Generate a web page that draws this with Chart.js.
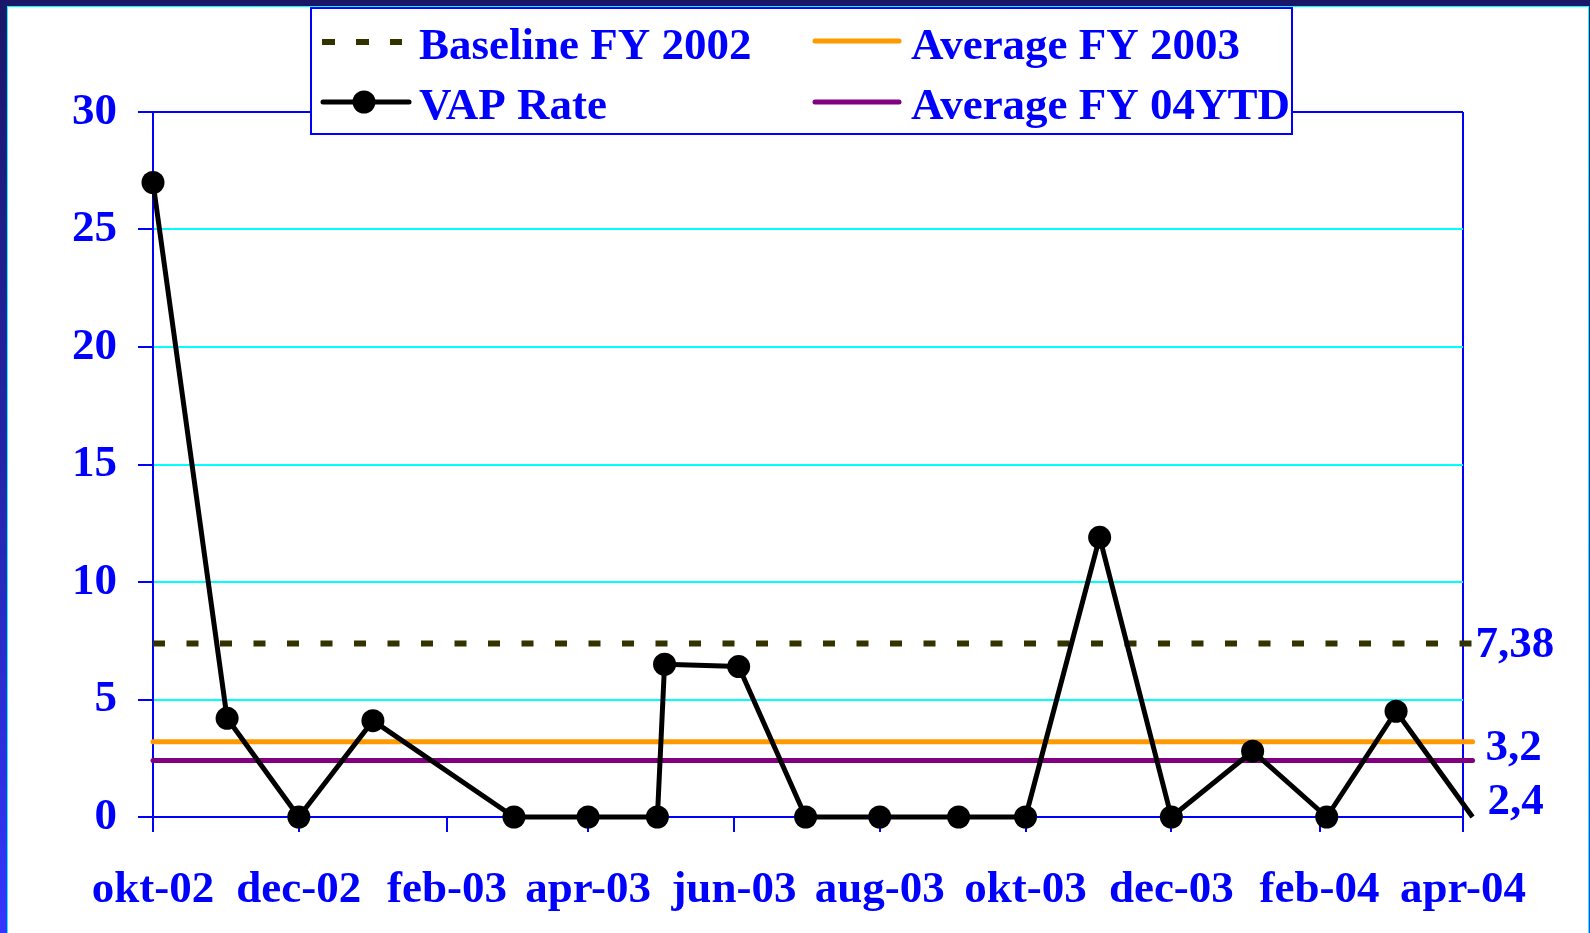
<!DOCTYPE html>
<html>
  <head>
    <meta charset="utf-8" />
    <script src="https://cdn.jsdelivr.net/npm/chart.js"></script>
    <title>VAP Rate</title>
    <style>
      html, body { margin: 0; padding: 0; }
      body {
        width: 1590px;
        height: 933px;
        overflow: hidden;
        position: relative;
        background: linear-gradient(to bottom, #1a1668 0%, #2626b0 55%, #3535ff 100%);
      }
      #frame {
        position: absolute;
        left: 7px;
        top: 6px;
        width: 1580px;
        height: 927px;
        border: 1px solid #00ffff;
        border-bottom: none;
        background: #fff;
      }
      #frame canvas { display: block; }
    </style>
  </head>
  <body>
    <div id="frame">
      <canvas id="vap" width="1580" height="927"></canvas>
    </div>

    <script>
      // data
      var vapDates = [
        "2002-10-01", "2002-11-01", "2002-12-01", "2003-01-01", "2003-03-01",
        "2003-04-01", "2003-04-30", "2003-05-03", "2003-06-03", "2003-07-01",
        "2003-08-01", "2003-09-03", "2003-10-01", "2003-11-01", "2003-12-01",
        "2004-01-04", "2004-02-04", "2004-03-04", "2004-04-05"
      ];
      var vapRate = [27, 4.2, 0, 4.1, 0, 0, 0, 6.5, 6.4, 0, 0, 0, 0, 11.9, 0, 2.8, 0, 4.5, 0];

      var tickDates = [
        "2002-10-01", "2002-12-01", "2003-02-01", "2003-04-01", "2003-06-01",
        "2003-08-01", "2003-10-01", "2003-12-01", "2004-02-01", "2004-04-01"
      ];
      var tickLabels = ["okt-02", "dec-02", "feb-03", "apr-03", "jun-03", "aug-03", "okt-03", "dec-03", "feb-04", "apr-04"];
      var yTicks = [0, 5, 10, 15, 20, 25, 30];

      var baselineFY2002 = 7.38;
      var averageFY2003 = 3.2;
      var averageFY04YTD = 2.4;

      var BLUE = "#0000ff";
      var FONT = { family: "'Liberation Serif', 'Times New Roman', serif", size: 45, weight: "bold" };
      var FONT_CSS = "bold 45px 'Liberation Serif', 'Times New Roman', serif";

      // days since the first month
      var start = Date.UTC(2002, 9, 1);
      function dayOf(s) {
        var p = s.split("-");
        return (Date.UTC(+p[0], +p[1] - 1, +p[2]) - start) / 86400000;
      }

      var xMax = dayOf(tickDates[tickDates.length - 1]);
      var lastDay = dayOf(vapDates[vapDates.length - 1]);

      function flatLine(v) {
        return [{ x: 0, y: v }, { x: lastDay, y: v }];
      }

      var vapPoints = vapDates.map(function (d, i) {
        return { x: dayOf(d), y: vapRate[i] };
      });

      // value labels at the end of the reference lines
      var endLabels = {
        id: "endLabels",
        afterDatasetsDraw: function (chart) {
          var ctx = chart.ctx;
          ctx.save();
          ctx.font = FONT_CSS;
          ctx.fillStyle = BLUE;
          ctx.textAlign = "left";
          ctx.textBaseline = "alphabetic";
          chart.data.datasets.forEach(function (ds, i) {
            if (!ds.endLabel) return;
            var pts = chart.getDatasetMeta(i).data;
            var p = pts[pts.length - 1];
            var txt = String(ds.data[ds.data.length - 1].y).replace(".", ",");
            ctx.fillText(txt, p.x + ds.endLabel[0], p.y + ds.endLabel[1]);
          });
          ctx.restore();
        }
      };

      // boxed legend sitting over the top of the plot
      var boxLegend = {
        id: "boxLegend",
        afterDraw: function (chart) {
          var ctx = chart.ctx;
          var ds = chart.data.datasets;
          ctx.save();
          ctx.fillStyle = "#fff";
          ctx.fillRect(302, 0, 983, 127);
          ctx.strokeStyle = BLUE;
          ctx.lineWidth = 2;
          ctx.strokeRect(303, 1, 981, 126);

          // Baseline FY 2002
          ctx.strokeStyle = ds[1].borderColor;
          ctx.lineWidth = 6;
          ctx.setLineDash([13, 21]);
          ctx.beginPath();
          ctx.moveTo(314, 35);
          ctx.lineTo(394, 35);
          ctx.stroke();
          ctx.setLineDash([]);

          // VAP Rate
          ctx.strokeStyle = ds[0].borderColor;
          ctx.lineWidth = 5;
          ctx.lineCap = "round";
          ctx.beginPath();
          ctx.moveTo(315, 95);
          ctx.lineTo(401, 95);
          ctx.stroke();
          ctx.fillStyle = "#000";
          ctx.beginPath();
          ctx.arc(356, 95, 11.5, 0, Math.PI * 2);
          ctx.fill();

          // averages
          [[ds[2], 34], [ds[3], 95]].forEach(function (e) {
            ctx.strokeStyle = e[0].borderColor;
            ctx.beginPath();
            ctx.moveTo(807, e[1]);
            ctx.lineTo(891, e[1]);
            ctx.stroke();
          });

          ctx.font = FONT_CSS;
          ctx.fillStyle = BLUE;
          ctx.textAlign = "left";
          ctx.textBaseline = "alphabetic";
          ctx.fillText(ds[1].label, 411, 52);
          ctx.fillText(ds[0].label, 411, 112);
          ctx.fillText(ds[2].label, 903, 52);
          ctx.fillText(ds[3].label, 903, 112);
          ctx.restore();
        }
      };

      new Chart(document.getElementById("vap").getContext("2d"), {
        type: "line",
        data: {
          datasets: [
            {
              label: "VAP Rate",
              data: vapPoints,
              borderColor: "#000",
              borderWidth: 5,
              borderJoinStyle: "round",
              pointRadius: function (c) { return c.dataIndex === vapPoints.length - 1 ? 0 : 11.5; },
              pointBackgroundColor: "#000",
              pointBorderWidth: 0,
              tension: 0,
              clip: false
            },
            {
              label: "Baseline FY 2002",
              data: flatLine(baselineFY2002),
              borderColor: "#333300",
              borderWidth: 6,
              borderDash: [12, 21.5],
              pointRadius: 0,
              clip: false,
              endLabel: [3, 13]
            },
            {
              label: "Average FY 2003",
              data: flatLine(averageFY2003),
              borderColor: "#ff9900",
              borderWidth: 5,
              borderCapStyle: "round",
              pointRadius: 0,
              clip: false,
              endLabel: [13, 18]
            },
            {
              label: "Average FY 04YTD",
              data: flatLine(averageFY04YTD),
              borderColor: "#800080",
              borderWidth: 5,
              borderCapStyle: "round",
              pointRadius: 0,
              clip: false,
              endLabel: [15, 53]
            }
          ]
        },
        options: {
          responsive: false,
          animation: false,
          devicePixelRatio: 1,
          layout: { padding: { top: 105, right: 125, left: 0, bottom: 0 } },
          plugins: { legend: { display: false }, tooltip: { enabled: false } },
          scales: {
            x: {
              type: "linear",
              min: 0,
              max: xMax,
              afterBuildTicks: function (s) {
                s.ticks = tickDates.map(function (d) { return { value: dayOf(d) }; });
              },
              afterFit: function (s) { s.height = 117; },
              ticks: {
                autoSkip: false,
                maxRotation: 0,
                padding: 31,
                color: BLUE,
                font: FONT,
                callback: function (v, i) { return tickLabels[i]; }
              },
              grid: {
                color: function (c) {
                  return c.tick && c.tick.value === xMax ? BLUE : "rgba(0,0,0,0)";
                },
                lineWidth: 2,
                tickLength: 15,
                tickColor: BLUE,
                tickWidth: 2
              },
              border: { color: BLUE, width: 2 }
            },
            y: {
              min: 0,
              max: 30,
              afterBuildTicks: function (s) {
                s.ticks = yTicks.map(function (v) { return { value: v }; });
              },
              afterFit: function (s) { s.width = 145; },
              ticks: { padding: 21, color: BLUE, font: FONT },
              grid: {
                color: function (c) {
                  var v = c.tick ? c.tick.value : 0;
                  return v === 0 || v === 30 ? BLUE : "#00ffff";
                },
                lineWidth: 2,
                tickLength: 15,
                tickColor: BLUE,
                tickWidth: 2
              },
              border: { color: BLUE, width: 2 }
            }
          }
        },
        plugins: [endLabels, boxLegend]
      });
    </script>
  </body>
</html>
